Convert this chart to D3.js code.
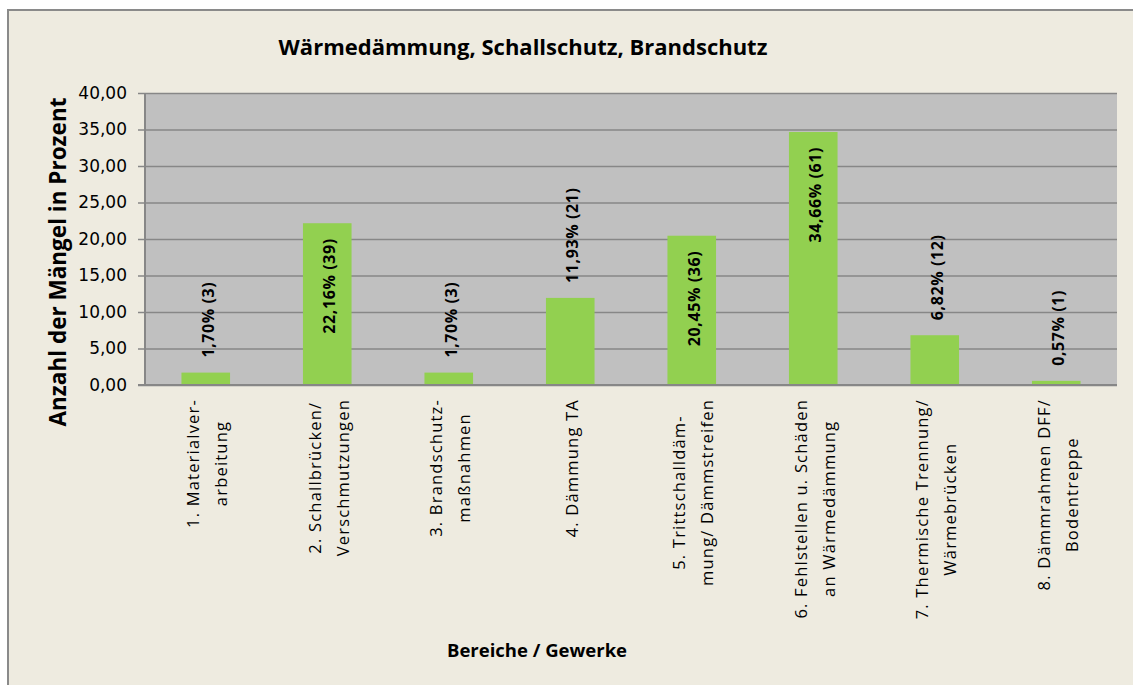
<!DOCTYPE html>
<html lang="de">
<head>
<meta charset="UTF-8">
<title>Wärmedämmung, Schallschutz, Brandschutz</title>
<script src="https://cdnjs.cloudflare.com/ajax/libs/d3/7.8.5/d3.min.js"></script>
<style>
  html, body { margin: 0; padding: 0; background: #fff; }
  svg { display: block; }
  text { font-family: "Open Sans", sans-serif; fill: #000; }
</style>
</head>
<body>
<svg id="chart" width="1133" height="685"></svg>
<script>
// data
var categories = [
    ["1. Materialver-", "arbeitung"],
    ["2. Schallbrücken/", "Verschmutzungen"],
    ["3. Brandschutz-", "maßnahmen"],
    ["4. Dämmung TA"],
    ["5. Trittschalldäm-", "mung/ Dämmstreifen"],
    ["6. Fehlstellen u. Schäden", "an Wärmedämmung"],
    ["7. Thermische Trennung/", "Wärmebrücken"],
    ["8. Dämmrahmen DFF/", "Bodentreppe"]
];
var percents = [1.70, 22.16, 1.70, 11.93, 20.45, 34.66, 6.82, 0.57];
var counts = [3, 39, 3, 21, 36, 61, 12, 1];
var yTicks = [0, 5, 10, 15, 20, 25, 30, 35, 40];

var svg = d3.select("#chart");

// chart frame
svg.append("rect")
    .attr("x", 8).attr("y", 10)
    .attr("width", 1140).attr("height", 700)
    .attr("fill", "#eeebe0")
    .attr("stroke", "#8a8a8a")
    .attr("stroke-width", 2);

var plot = {left: 145, right: 1117, top: 93, bottom: 385};

var x = d3.scaleBand()
    .domain(d3.range(categories.length))
    .range([plot.left, plot.right])
    .paddingInner(0.6)
    .paddingOuter(0.3);

var band = d3.scaleBand()
    .domain(d3.range(categories.length))
    .range([plot.left, plot.right]);

var y = d3.scaleLinear()
    .domain([0, 40])
    .range([plot.bottom, plot.top]);

var fmt = function(v) { return d3.format(".2f")(v).replace(".", ","); };

// plot area
svg.append("rect")
    .attr("x", plot.left).attr("y", plot.top)
    .attr("width", plot.right - plot.left)
    .attr("height", plot.bottom - plot.top)
    .attr("fill", "#c0c0c0");

// y axis with gridlines
var yAxis = svg.append("g")
    .attr("transform", "translate(" + plot.left + ",0)")
    .call(d3.axisLeft(y)
        .tickValues(yTicks)
        .tickSize(-(plot.right - plot.left))
        .tickFormat(fmt)
        .tickPadding(18));
yAxis.select(".domain").remove();
yAxis.selectAll(".tick line")
    .attr("x1", -7)
    .attr("stroke", "#878787")
    .attr("stroke-width", 1.6);
yAxis.selectAll(".tick text")
    .style("font-family", "'DejaVu Sans', sans-serif")
    .style("font-size", "17px")
    .attr("fill", "#1a1a2e");

// axis lines
svg.append("line")
    .attr("x1", plot.left).attr("x2", plot.left)
    .attr("y1", plot.top).attr("y2", plot.bottom)
    .attr("stroke", "#878787").attr("stroke-width", 2);
svg.append("line")
    .attr("x1", plot.left - 7).attr("x2", plot.right)
    .attr("y1", plot.bottom).attr("y2", plot.bottom)
    .attr("stroke", "#878787").attr("stroke-width", 2);

// bars
svg.append("g")
    .selectAll("rect")
    .data(percents)
    .enter()
    .append("rect")
    .attr("x", function(d, i) { return x(i); })
    .attr("width", x.bandwidth())
    .attr("y", function(d) { return y(d); })
    .attr("height", function(d) { return y(0) - y(d) - 1; })
    .attr("fill", "#92d050");

// data labels: inside end if they fit, otherwise above the bar
var labels = svg.append("g")
    .selectAll("text")
    .data(percents)
    .enter()
    .append("text")
    .style("font-size", "16px")
    .style("font-weight", "bold")
    .style("letter-spacing", "0.6px")
    .attr("dominant-baseline", "central")
    .text(function(d, i) { return fmt(d) + "% (" + counts[i] + ")"; });

labels.each(function(d, i) {
    var len = this.getComputedTextLength();
    var cx = x(i) + x.bandwidth() / 2 + 2;
    var top = y(d);
    var inside = (y(0) - top) > len + 30;
    var ty = inside ? top + 15 : top - 15;
    d3.select(this)
        .attr("text-anchor", inside ? "end" : "start")
        .attr("transform", "translate(" + cx + "," + ty + ") rotate(-90)");
});

// category labels
var catG = svg.append("g")
    .selectAll("g")
    .data(categories)
    .enter()
    .append("g");

catG.each(function(lines, i) {
    var g = d3.select(this);
    var cx = band(i) + band.bandwidth() / 2 + 1;
    var gap = 28;
    var texts = lines.map(function(line, j) {
        var off = (j - (lines.length - 1) / 2) * gap;
        return g.append("text")
            .style("font-size", "16.5px")
            .style("letter-spacing", "1.2px")
            .attr("fill", "#111")
            .attr("dominant-baseline", "central")
            .attr("text-anchor", "middle")
            .attr("data-x", cx + off)
            .text(line);
    });
    var maxLen = d3.max(texts, function(t) { return t.node().getComputedTextLength(); });
    var cy = 399 + maxLen / 2;
    texts.forEach(function(t) {
        t.attr("transform", "translate(" + t.attr("data-x") + "," + cy + ") rotate(-90)");
    });
});

// title
svg.append("text")
    .attr("x", 523).attr("y", 55)
    .attr("text-anchor", "middle")
    .style("font-size", "22px")
    .style("font-weight", "bold")
    .text("Wärmedämmung, Schallschutz, Brandschutz");

// axis titles
svg.append("text")
    .attr("transform", "translate(57,262) rotate(-90)")
    .attr("text-anchor", "middle")
    .attr("dominant-baseline", "central")
    .style("font-size", "22.5px")
    .style("font-weight", "bold")
    .text("Anzahl der Mängel in Prozent");

svg.append("text")
    .attr("x", 537).attr("y", 657)
    .attr("text-anchor", "middle")
    .style("font-size", "18.5px")
    .style("font-weight", "bold")
    .text("Bereiche / Gewerke");
</script>
</body>
</html>
